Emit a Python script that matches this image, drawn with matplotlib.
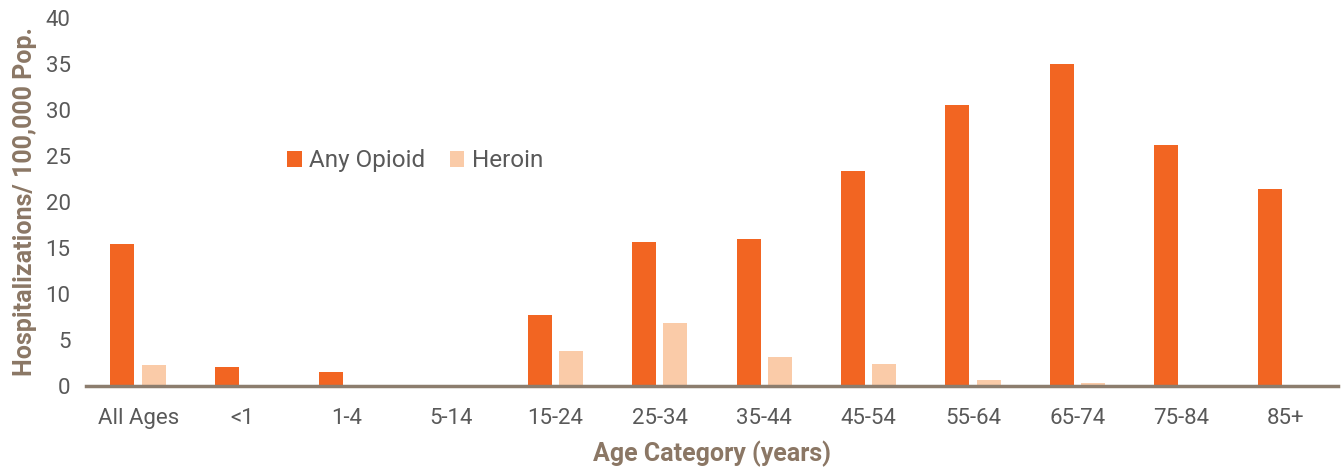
import numpy as np
import matplotlib.pyplot as plt

categories = ['All Ages', '<1', '1-4', '5-14', '15-24', '25-34', '35-44',
              '45-54', '55-64', '65-74', '75-84', '85+']
any_opioid = [15.4, 2.1, 1.5, 0.15, 7.7, 15.7, 16.0, 23.4, 30.5, 35.0, 26.2, 21.4]
heroin = [2.3, 0.0, 0.0, 0.0, 3.8, 6.9, 3.2, 2.4, 0.7, 0.35, 0.0, 0.0]

orange = '#F26522'
peach = '#FACBA8'
brown = '#8B7765'
gray = '#595959'

plt.rcParams['font.family'] = ['Roboto', 'DejaVu Sans']

fig = plt.figure(figsize=(13.41, 4.69), dpi=100)
ax = fig.add_axes([0.0641, 0.177, 0.9337, 0.7846])

x = np.arange(len(categories))
w = 0.23
ax.bar(x - 0.15, any_opioid, w, color=orange, label='Any Opioid', zorder=2)
ax.bar(x + 0.15, heroin, w, color=peach, label='Heroin', zorder=2)

ax.set_xlim(-0.5, len(categories) - 0.5)
ax.set_ylim(0, 40)
ax.set_yticks(range(0, 41, 5))
ax.set_xticks(x)
ax.set_xticklabels(categories)
ax.tick_params(axis='both', length=0, labelsize=16, colors=gray)
ax.tick_params(axis='y', pad=11)
ax.tick_params(axis='x', pad=16)

for s in ['top', 'right', 'left']:
    ax.spines[s].set_visible(False)
ax.spines['bottom'].set_color('#8C7D6E')
ax.spines['bottom'].set_linewidth(2.5)
ax.spines['bottom'].set_zorder(3)

ax.set_ylabel('Hospitalizations/ 100,000 Pop.', fontsize=18, fontweight='bold',
              color=brown, labelpad=6)
ax.set_xlabel('Age Category (years)', fontsize=18, fontweight='bold',
              color=brown, labelpad=8)

leg = fig.legend(loc='center left', bbox_to_anchor=(0.198, 0.657), ncol=2,
                 frameon=False, fontsize=17.5, handlelength=0.6, handleheight=0.6,
                 handletextpad=0.3, columnspacing=1.0)
for t in leg.get_texts():
    t.set_color(gray)

fig.savefig('out.png', dpi=100)
